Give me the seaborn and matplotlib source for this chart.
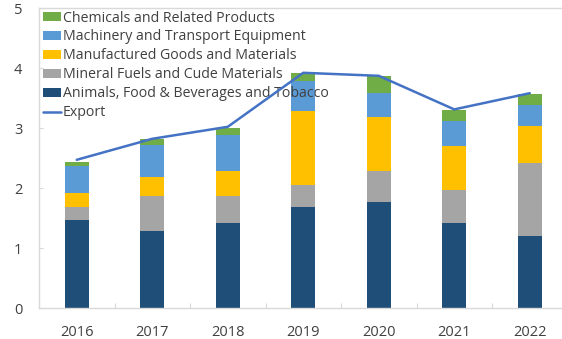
import numpy as np
import pandas as pd
import matplotlib
matplotlib.use("Agg")
import matplotlib.pyplot as plt
import seaborn as sns
from matplotlib.patches import Patch
from matplotlib.lines import Line2D
from matplotlib.ticker import FixedLocator

years = ["2016", "2017", "2018", "2019", "2020", "2021", "2022"]

animals_food = [1.46, 1.28, 1.41, 1.68, 1.77, 1.41, 1.20]
mineral_fuels = [0.22, 0.58, 0.45, 0.37, 0.52, 0.56, 1.22]
manufactured = [0.24, 0.32, 0.42, 1.23, 0.89, 0.73, 0.62]
machinery = [0.44, 0.54, 0.60, 0.50, 0.40, 0.42, 0.35]
chemicals = [0.08, 0.09, 0.12, 0.13, 0.29, 0.18, 0.18]
export = [2.47, 2.82, 3.02, 3.92, 3.87, 3.31, 3.58]

series_names = [
    "Animals, Food & Beverages and Tobacco",
    "Mineral Fuels and Cude Materials",
    "Manufactured Goods and Materials",
    "Machinery and Transport Equipment",
    "Chemicals and Related Products",
]
series_values = [animals_food, mineral_fuels, manufactured, machinery, chemicals]
series_colors = ["#1F4E79", "#A5A5A5", "#FFC000", "#5B9BD5", "#70AD47"]
line_color = "#4472C4"
text_color = "#404040"
grid_color = "#D9D9D9"

sns.set_theme(style="white")
plt.rcParams["font.family"] = ["Open Sans", "DejaVu Sans"]

W, H = 562, 339
fig = plt.figure(figsize=(W / 100, H / 100), dpi=100)
left_px, right_px, top_px, bottom_px = 39, 567.5, 8, 308
ax = fig.add_axes([left_px / W, 1 - bottom_px / H,
                   (right_px - left_px) / W, (bottom_px - top_px) / H])

# stacked columns
bottom = np.zeros(len(years))
for name, vals, col in zip(series_names, series_values, series_colors):
    df = pd.DataFrame({"year": years, "value": vals})
    sns.barplot(data=df, x="year", y="value", order=years, color=col,
                width=0.32, errorbar=None, bottom=bottom.copy(),
                saturation=1, linewidth=0, ax=ax, zorder=2)
    bottom += np.array(vals)

# total export line
sns.lineplot(x=np.arange(len(years)), y=export, color=line_color,
             linewidth=1.8, ax=ax, zorder=4)

ax.set_xlim(-0.5, 6.5)
ax.set_ylim(0, 5)
ax.set_yticks([0, 1, 2, 3, 4, 5])
ax.set_xticks(range(len(years)))
ax.set_xticklabels(years)
ax.set_xlabel("")
ax.set_ylabel("")

for side in ["left", "top", "bottom", "right"]:
    ax.spines[side].set_visible(True)
    ax.spines[side].set_color(grid_color)
    ax.spines[side].set_linewidth(1.0)

ax.tick_params(axis="y", direction="in", length=3, width=0.8, color=grid_color,
               labelsize=10.5, labelcolor=text_color, pad=12, left=True)
ax.tick_params(axis="x", which="major", length=0, labelsize=10.5,
               labelcolor=text_color, pad=12)
ax.xaxis.set_minor_locator(FixedLocator(np.arange(0.5, len(years) - 0.5, 1)))
ax.tick_params(axis="x", which="minor", direction="in", length=3.5, width=0.8,
               color=grid_color, bottom=True)

handles = [Patch(facecolor=c, edgecolor="none", label=n)
           for n, c in zip(series_names[::-1], series_colors[::-1])]
handles.append(Line2D([0], [0], color=line_color, linewidth=1.8, label="Export"))
leg = ax.legend(handles=handles, loc="upper left",
                bbox_to_anchor=(43 / W, 1 - 10.5 / H), bbox_transform=fig.transFigure,
                frameon=False, fontsize=10.2, borderaxespad=0, borderpad=0,
                handlelength=1.25, handleheight=0.6, handletextpad=0.15,
                labelspacing=0.28)
for t in leg.get_texts():
    t.set_color(text_color)
leg.set_zorder(3)

fig.savefig("out.png", dpi=100)
